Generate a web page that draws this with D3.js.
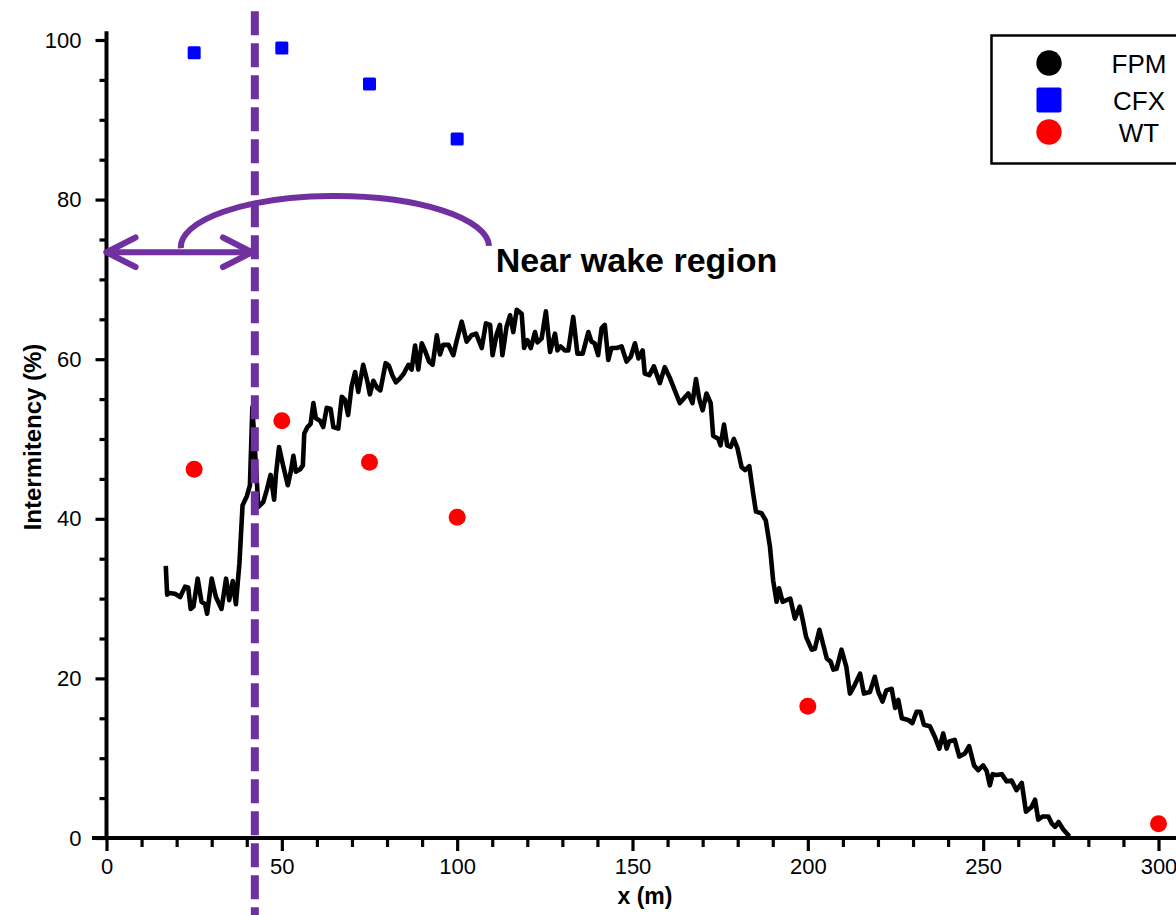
<!DOCTYPE html>
<html>
<head>
<meta charset="utf-8">
<script src="https://cdn.jsdelivr.net/npm/d3@7"></script>
<style>
  body { margin:0; background:#fff; }
  svg { display:block; font-family:"Liberation Sans", Arial, sans-serif; }
</style>
</head>
<body>
<div id="chart"></div>
<script>
// FPM line (x in m, intermittency in %)
let fpmX = [16.9,17.3,17.9,19.5,21.0,22.4,23.3,24.0,24.8,26.0,27.1,28.1,28.7,30.0,31.2,32.8,34.1,35.0,36.0,36.9,37.9,38.8,40.0,40.9,41.6,43.3,44.7,45.7,46.8,47.8,48.3,49.2,50.2,51.7,52.5,53.3,54.0,55.2,56.0,56.4,57.3,58.2,59.0,59.7,60.9,61.8,62.8,63.9,64.7,66.1,67.1,68.0,68.9,69.9,70.9,71.8,73.2,74.4,75.1,76.1,77.2,78.1,79.6,80.5,81.5,82.5,83.7,84.8,86.1,87.0,88.0,88.9,89.9,90.8,92.0,93.0,94.2,95.1,96.0,97.5,98.9,99.8,101.3,102.7,104.1,105.4,107.0,108.2,109.4,110.1,111.3,112.2,112.9,114.1,115.1,116.0,117.0,118.4,119.1,120.0,121.0,122.2,122.9,124.1,125.3,126.5,127.9,128.6,129.5,130.7,131.7,133.1,134.3,135.8,137.4,138.3,139.2,140.2,141.2,142.1,143.1,144.0,145.5,146.9,148.3,149.5,150.7,151.7,152.9,153.5,154.8,156.1,157.8,159.2,160.7,163.5,165.9,167.1,168.1,169.0,170.0,171.1,172.3,173.0,174.5,175.1,176.1,177.0,178.0,178.9,179.9,181.1,182.1,183.3,184.4,185.2,186.8,188.0,189.2,190.1,191.1,191.8,192.8,193.9,195.0,196.3,197.7,198.5,199.5,201.1,202.0,203.3,205.4,206.5,207.3,208.2,209.6,211.0,212.0,213.4,214.9,216.0,217.7,219.1,220.1,221.3,222.4,223.9,224.9,225.8,226.8,228.6,229.8,231.0,232.1,233.1,234.8,236.2,237.5,238.6,239.6,240.3,241.9,243.2,244.8,246.0,247.4,248.6,250.0,251.0,251.9,252.7,253.8,255.3,256.7,258.1,259.5,261.0,262.2,263.8,264.8,265.7,267.0,268.6,269.6,270.5,271.5,272.8,274.6]
let fpmY = [34.1,30.5,30.7,30.6,30.2,31.5,31.4,28.7,29.0,32.5,29.6,29.3,28.1,32.5,30.2,28.7,32.5,29.8,32.2,29.3,34.4,41.7,42.8,44.2,54.0,41.5,42.1,43.6,45.5,42.4,45.5,49.0,47.0,44.2,45.8,47.9,45.9,46.2,46.7,50.7,51.5,51.9,54.5,52.6,52.3,51.5,53.9,53.8,51.5,51.3,55.3,54.9,53.0,56.6,58.4,55.9,59.3,57.2,55.6,57.3,56.4,56.1,59.5,59.2,58.0,57.1,57.6,58.2,59.3,58.7,61.7,58.7,62.0,61.1,59.7,59.3,63.0,60.6,61.8,61.8,60.5,62.2,64.7,62.2,63.0,63.2,61.4,64.5,64.3,60.5,63.2,64.3,60.5,64.1,65.5,63.4,66.2,65.7,61.4,62.4,61.4,63.4,62.1,62.6,66.0,60.9,63.2,61.1,61.6,61.1,61.1,65.3,60.7,60.7,63.4,62.2,62.0,60.5,63.9,64.3,59.9,61.4,61.4,61.6,59.7,60.3,62.0,60.1,61.1,58.2,58.0,59.1,57.0,59.0,57.6,54.5,55.7,54.5,57.5,55.1,53.6,55.7,54.5,50.4,50.0,49.2,51.8,49.2,49.0,50.0,48.9,46.5,46.1,46.6,43.2,40.9,40.7,39.8,36.5,32.3,29.6,31.3,29.6,29.8,30.0,27.5,29.0,27.4,25.2,23.6,23.7,26.1,22.5,22.1,21.1,21.2,23.6,21.4,18.1,19.2,20.6,18.1,18.3,20.2,18.3,17.1,18.5,18.7,16.3,17.3,15.0,14.8,14.4,15.8,15.8,14.2,14.0,12.7,11.2,13.1,11.2,12.1,12.3,10.2,10.6,11.5,9.1,8.5,9.1,8.4,6.6,8.0,7.9,8.0,7.1,7.2,6.0,6.9,3.3,3.9,4.8,2.3,2.7,2.7,1.8,1.4,2.0,1.1,0.2]

// CFX squares
let cfxX = [25, 50, 75, 100]
let cfxY = [98.4, 99.0, 94.5, 87.6]

// WT circles
let wtX = [25, 50, 75, 100, 200, 300]
let wtY = [46.2, 52.3, 47.1, 40.2, 16.5, 1.8]

let xMajor = [0, 50, 100, 150, 200, 250, 300]
let yMajor = [0, 20, 40, 60, 80, 100]
let legendNames = ['FPM', 'CFX', 'WT']

// near wake annotation (data units)
let wakeX = 42.3
let arrowY = 73.4

function render(){
  let width = 1176, height = 915
  let purple = "#7030A0"

  let x = d3.scaleLinear().domain([0,300]).range([106.5,1158.5])
  let y = d3.scaleLinear().domain([0,100]).range([838,40])

  let svg = d3.select("#chart").append("svg")
    .attr("width",width).attr("height",height)
    .attr("viewBox",`0 0 ${width} ${height}`)

  // x axis
  let xAxis = d3.axisBottom(x).tickValues(xMajor).tickSize(13).tickPadding(7)
  let xMinor = d3.axisBottom(x).tickValues(d3.range(0,301,10).filter(d=>d%50)).tickSize(9).tickFormat("")
  let xg = svg.append("g").attr("transform",`translate(0,${y(0)})`).call(xAxis)
  let xmg = svg.append("g").attr("transform",`translate(0,${y(0)})`).call(xMinor)
  // y axis
  let yAxis = d3.axisLeft(y).tickValues(yMajor).tickSize(11).tickPadding(14)
  let yMinor = d3.axisLeft(y).tickValues(d3.range(0,101,5).filter(d=>d%20)).tickSize(7).tickFormat("")
  let yg = svg.append("g").attr("transform",`translate(${x(0)},0)`).call(yAxis)
  let ymg = svg.append("g").attr("transform",`translate(${x(0)},0)`).call(yMinor)

  ;[xg,xmg,yg,ymg].forEach(g=>{
    g.select(".domain").remove()
    g.selectAll(".tick line").attr("stroke","#000").attr("stroke-width",3.2)
    g.selectAll("text").attr("font-size",22).attr("fill","#000")
      .attr("font-family","'Liberation Sans', Arial, sans-serif")
  })

  svg.append("line").attr("x1",92).attr("x2",width).attr("y1",y(0)).attr("y2",y(0))
    .attr("stroke","#000").attr("stroke-width",4)
  svg.append("line").attr("x1",x(0)).attr("x2",x(0)).attr("y1",y(101.1)).attr("y2",y(0)+2)
    .attr("stroke","#000").attr("stroke-width",4)

  svg.append("text").attr("x",645).attr("y",904).attr("text-anchor","middle")
    .attr("font-size",23).attr("font-weight","bold").text("x (m)")
  svg.append("text").attr("transform","translate(41,437) rotate(-90)").attr("text-anchor","middle")
    .attr("font-size",24).attr("font-weight","bold").text("Intermitency (%)")

  // FPM line
  let fpm = fpmX.map((d,i)=>({x:d, y:fpmY[i]}))
  let line = d3.line().x(d=>x(d.x)).y(d=>y(d.y))
  svg.append("path").attr("d",line(fpm))
    .attr("fill","none").attr("stroke","#000").attr("stroke-width",4.6).attr("stroke-linejoin","round")

  // CFX
  svg.selectAll(".cfx").data(cfxX).enter().append("rect").attr("class","cfx")
    .attr("x",d=>x(d)-6.5).attr("y",(d,i)=>y(cfxY[i])-6.5)
    .attr("width",13).attr("height",13).attr("rx",1.5).attr("fill","#0000FF")

  // WT
  svg.selectAll(".wt").data(wtX).enter().append("circle").attr("class","wt")
    .attr("cx",d=>x(d)).attr("cy",(d,i)=>y(wtY[i])).attr("r",8.5).attr("fill","#FF0000")

  // near wake annotation
  svg.append("line").attr("x1",x(wakeX)).attr("x2",x(wakeX)).attr("y1",y(103.6)).attr("y2",height)
    .attr("stroke",purple).attr("stroke-width",8).attr("stroke-dasharray","24 8")

  let ann = svg.append("g").attr("stroke",purple).attr("stroke-width",6)
    .attr("fill","none").attr("stroke-linecap","round").attr("stroke-linejoin","round")
  ann.append("line").attr("x1",x(0)).attr("x2",x(41.5)).attr("y1",y(arrowY)).attr("y2",y(arrowY))
  ann.append("polyline").attr("points",[[x(8.3),y(arrowY+1.85)],[x(0),y(arrowY)],[x(8.3),y(arrowY-1.85)]].join(" "))
  ann.append("polyline").attr("points",[[x(33.2),y(arrowY+1.85)],[x(41.5),y(arrowY)],[x(33.2),y(arrowY-1.85)]].join(" "))
  let rx = x(109.1)-x(65.2), ry = y(73.9)-y(80.3)
  ann.append("path").attr("stroke-linecap","butt")
    .attr("d",`M${x(21.2)},${y(73.9)} A${rx},${ry} 0 0 1 ${x(109.1)},${y(74.2)}`)

  svg.append("text").attr("x",x(111)).attr("y",y(70.9)).attr("font-size",34)
    .attr("font-weight","bold").text("Near wake region")

  // legend
  let lg = svg.append("g")
  lg.append("rect").attr("x",991.5).attr("y",35.5).attr("width",220).attr("height",128)
    .attr("fill","#fff").attr("stroke","#000").attr("stroke-width",2.5)
  let ly = [63, 100, 132]
  lg.append("circle").attr("cx",1049).attr("cy",ly[0]).attr("r",12.7).attr("fill","#000")
  lg.append("rect").attr("x",1036.5).attr("y",ly[1]-12.5).attr("width",25).attr("height",25).attr("rx",2).attr("fill","#0000FF")
  lg.append("circle").attr("cx",1049).attr("cy",ly[2]).attr("r",12.7).attr("fill","#FF0000")
  lg.selectAll(".lt").data(legendNames).enter().append("text").attr("class","lt")
    .attr("x",1139).attr("y",(d,i)=>ly[i]+10).attr("text-anchor","middle")
    .attr("font-size",26).text(d=>d)
}
render()
</script>
</body>
</html>
